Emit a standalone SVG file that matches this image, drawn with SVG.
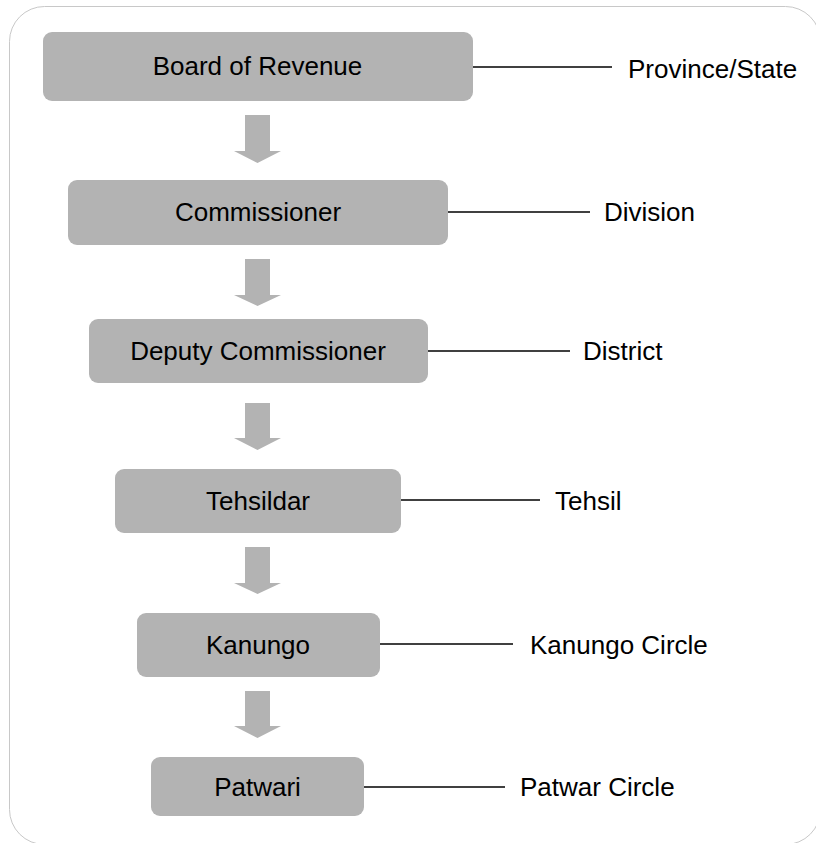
<svg xmlns="http://www.w3.org/2000/svg" width="816" height="843" viewBox="0 0 816 843">
<defs>
<style>
.box{fill:#b3b3b3;}
.t{font-family:"Liberation Sans",Arial,sans-serif;font-size:26px;fill:#000;}
.c{text-anchor:middle;}
.ln{stroke:#000;stroke-width:1.3;fill:none;}
.ar{fill:#b3b3b3;}
</style>
</defs>
<rect x="9.5" y="6.5" width="811" height="838" rx="35" ry="35" fill="#fff" stroke="#c8c8c8" stroke-width="1"/>
<g id="connectors">
<line class="ln" x1="473" y1="67" x2="612" y2="67"/>
<line class="ln" x1="448" y1="212" x2="590" y2="212"/>
<line class="ln" x1="428" y1="351" x2="570" y2="351"/>
<line class="ln" x1="401" y1="500" x2="540" y2="500"/>
<line class="ln" x1="380" y1="644" x2="513" y2="644"/>
<line class="ln" x1="364" y1="787" x2="505" y2="787"/>
<polygon class="ar" points="245,115 270,115 270,151 281,151 257.5,163 234,151 245,151"/>
<polygon class="ar" points="245,259 270,259 270,295 281,295 257.5,306 234,295 245,295"/>
<polygon class="ar" points="245,403 270,403 270,438 281,438 257.5,450 234,438 245,438"/>
<polygon class="ar" points="245,547 270,547 270,583 281,583 257.5,594 234,583 245,583"/>
<polygon class="ar" points="245,691 270,691 270,726 281,726 257.5,738 234,726 245,726"/>
</g>
<g id="board">
<rect class="box" x="43" y="32" width="430" height="69" rx="9"/>
<text class="t c" x="257.5" y="75">Board of Revenue</text>
</g>
<g id="province">
<text class="t" x="628" y="78">Province/State</text>
</g>
<g id="commissioner">
<rect class="box" x="68" y="180" width="380" height="65" rx="9"/>
<text class="t c" x="258" y="221">Commissioner</text>
</g>
<g id="division">
<text class="t" x="604" y="221">Division</text>
</g>
<g id="deputy">
<rect class="box" x="89" y="319" width="339" height="64" rx="9"/>
<text class="t c" x="258" y="360">Deputy Commissioner</text>
</g>
<g id="district">
<text class="t" x="583" y="360">District</text>
</g>
<g id="tehsildar">
<rect class="box" x="115" y="469" width="286" height="64" rx="9"/>
<text class="t c" x="258" y="510">Tehsildar</text>
</g>
<g id="tehsil">
<text class="t" x="555" y="510">Tehsil</text>
</g>
<g id="kanungo">
<rect class="box" x="137" y="613" width="243" height="64" rx="9"/>
<text class="t c" x="258" y="654">Kanungo</text>
</g>
<g id="kanungo-circle">
<text class="t" x="530" y="654">Kanungo Circle</text>
</g>
<g id="patwari">
<rect class="box" x="151" y="757" width="213" height="59" rx="9"/>
<text class="t c" x="257.5" y="796">Patwari</text>
</g>
<g id="patwar-circle">
<text class="t" x="520" y="796">Patwar Circle</text>
</g>
</svg>
